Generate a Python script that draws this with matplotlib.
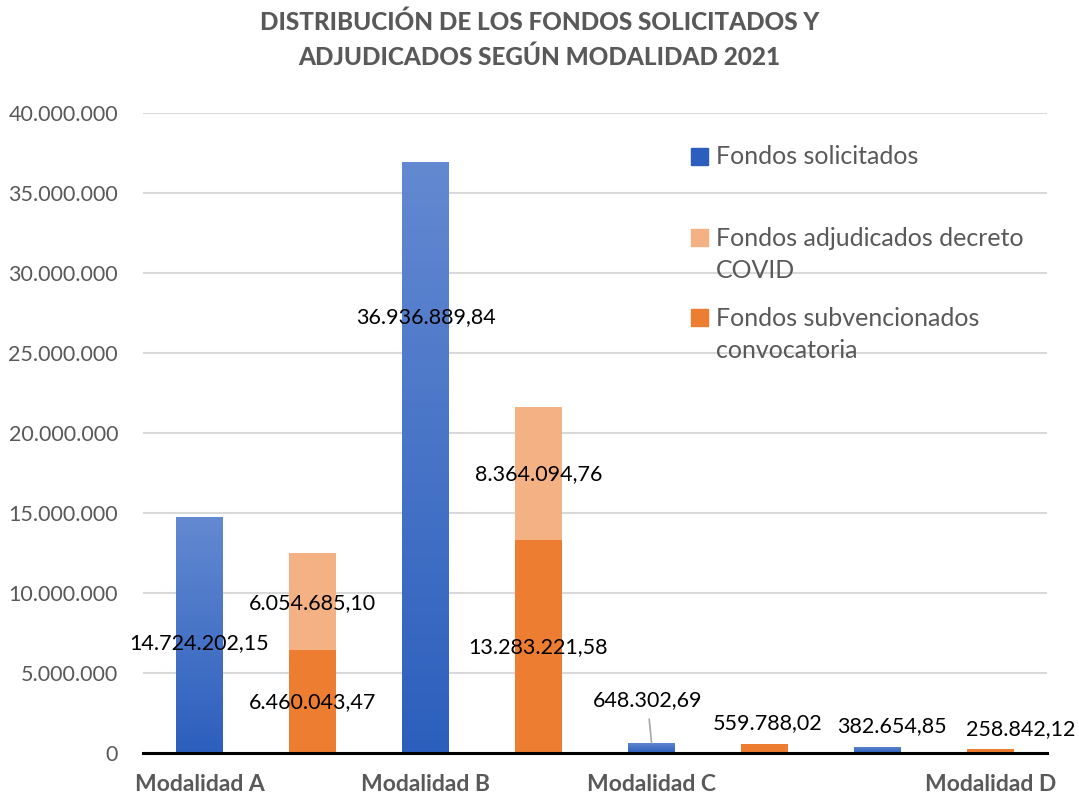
import matplotlib.pyplot as plt
import matplotlib.ticker as mticker
import numpy as np
from matplotlib.patches import Rectangle
from matplotlib.colors import LinearSegmentedColormap

plt.rcParams['font.family'] = ['Lato', 'DejaVu Sans']

# data
modalidades = ['Modalidad A', 'Modalidad B', 'Modalidad C', 'Modalidad D']
solicitados = [14724202.15, 36936889.84, 648302.69, 382654.85]
convocatoria = [6460043.47, 13283221.58, 559788.02, 258842.12]
covid = [6054685.10, 8364094.76, 0, 0]
# tick labels under the 8 bar slots (as in the original, C and D are shifted)
slot_labels = ['Modalidad A', '', 'Modalidad B', '', 'Modalidad C', '', '', 'Modalidad D']

BLUE_TOP = '#6389d1'
BLUE_BOT = '#2c5fbd'
ORANGE = '#ed7d31'
LIGHT_ORANGE = '#f4b183'
GRAY = '#595959'

W, H = 1079, 798


def fmt_es(v):
    s = f'{v:,.2f}'
    return s.replace(',', 'X').replace('.', ',').replace('X', '.')


fig = plt.figure(figsize=(W / 100, H / 100), dpi=100)
ax = fig.add_axes([143 / W, 1 - 753 / H, (1047 - 143) / W, (753 - 113) / H])

x_blue = np.arange(len(modalidades)) * 2
x_orange = x_blue + 1
w = 0.41

blue_bars = ax.bar(x_blue, solicitados, width=w, color=BLUE_BOT, zorder=2)
ax.bar(x_orange, convocatoria, width=w, color=ORANGE, zorder=2)
ax.bar(x_orange, covid, width=w, bottom=convocatoria, color=LIGHT_ORANGE, zorder=2)

# vertical gradient on the blue bars
grad = np.linspace(1, 0, 256).reshape(-1, 1)
cmap = LinearSegmentedColormap.from_list('b', [BLUE_BOT, BLUE_TOP])
for b in blue_bars:
    x0, y0 = b.get_x(), b.get_y()
    im = ax.imshow(grad, cmap=cmap, aspect='auto', zorder=3,
                   extent=[x0, x0 + b.get_width(), y0, y0 + b.get_height()])
    im.set_clip_path(b)

ax.set_xlim(-0.5, 7.5)
ax.set_ylim(0, 40000000)
ax.set_yticks(np.arange(0, 40000001, 5000000))
ax.yaxis.set_major_formatter(mticker.FuncFormatter(lambda v, p: f'{int(v):,}'.replace(',', '.')))
ax.set_xticks(np.arange(8))
ax.set_xticklabels(slot_labels, fontsize=16.5, fontweight='bold', color=GRAY)
ax.tick_params(axis='x', length=0, pad=15)
ax.tick_params(axis='y', length=0, pad=18, labelsize=15.5, labelcolor=GRAY)
ax.grid(axis='y', color='#d9d9d9', linewidth=1.5, zorder=0)
ax.set_axisbelow(True)
for s in ['top', 'right', 'left']:
    ax.spines[s].set_visible(False)
ax.spines['bottom'].set_linewidth(2.2)
ax.spines['bottom'].set_color('black')
ax.spines['bottom'].set_zorder(4)

# data labels (positions as moved in the original)
lab_kw = dict(ha='center', va='center', fontsize=15.5, color='black', zorder=5)
ax.text(x_blue[0], 6.9e6, fmt_es(solicitados[0]), **lab_kw)
ax.text(x_orange[0], 9.4e6, fmt_es(covid[0]), **lab_kw)
ax.text(x_orange[0], 3.2e6, fmt_es(convocatoria[0]), **lab_kw)
ax.text(x_blue[1], 27.25e6, fmt_es(solicitados[1]), **lab_kw)
ax.text(x_orange[1], 17.45e6, fmt_es(covid[1]), **lab_kw)
ax.text(x_orange[1], 6.6e6, fmt_es(convocatoria[1]), **lab_kw)
ax.text(x_blue[2] - 0.03, 3.3e6, fmt_es(solicitados[2]), **lab_kw)
ax.plot([x_blue[2] - 0.02, x_blue[2]], [2.1e6, solicitados[2]], color='#a6a6a6', lw=1.2, zorder=5)
ax.text(x_orange[2] + 0.03, 1.9e6, fmt_es(convocatoria[2]), **lab_kw)
ax.text(x_blue[3] + 0.13, 1.7e6, fmt_es(solicitados[3]), **lab_kw)
ax.text(x_orange[3] + 0.27, 1.5e6, fmt_es(convocatoria[3]), **lab_kw)

fig.text(0.5, 1 - 22 / H, 'DISTRIBUCIÓN DE LOS FONDOS SOLICITADOS Y', ha='center', va='center',
         fontsize=17.5, fontweight='black', color=GRAY)
fig.text(0.5, 1 - 57 / H, 'ADJUDICADOS SEGÚN MODALIDAD 2021', ha='center', va='center',
         fontsize=17.5, fontweight='black', color=GRAY)

# legend, drawn by hand so the square sits on the first text line
legend_items = [
    (BLUE_BOT, ['Fondos solicitados'], 157),
    (LIGHT_ORANGE, ['Fondos adjudicados decreto', 'COVID'], 238),
    (ORANGE, ['Fondos subvencionados', 'convocatoria'], 318),
]
for color, lines, ypx in legend_items:
    fig.patches.append(Rectangle((691 / W, 1 - (ypx + 8) / H), 17 / W, 17 / H,
                                 transform=fig.transFigure, color=color))
    for i, line in enumerate(lines):
        fig.text(716 / W, 1 - (ypx + 32 * i) / H, line, ha='left', va='center',
                 fontsize=18, color=GRAY)

fig.savefig('out.png', dpi=100, facecolor='white')
